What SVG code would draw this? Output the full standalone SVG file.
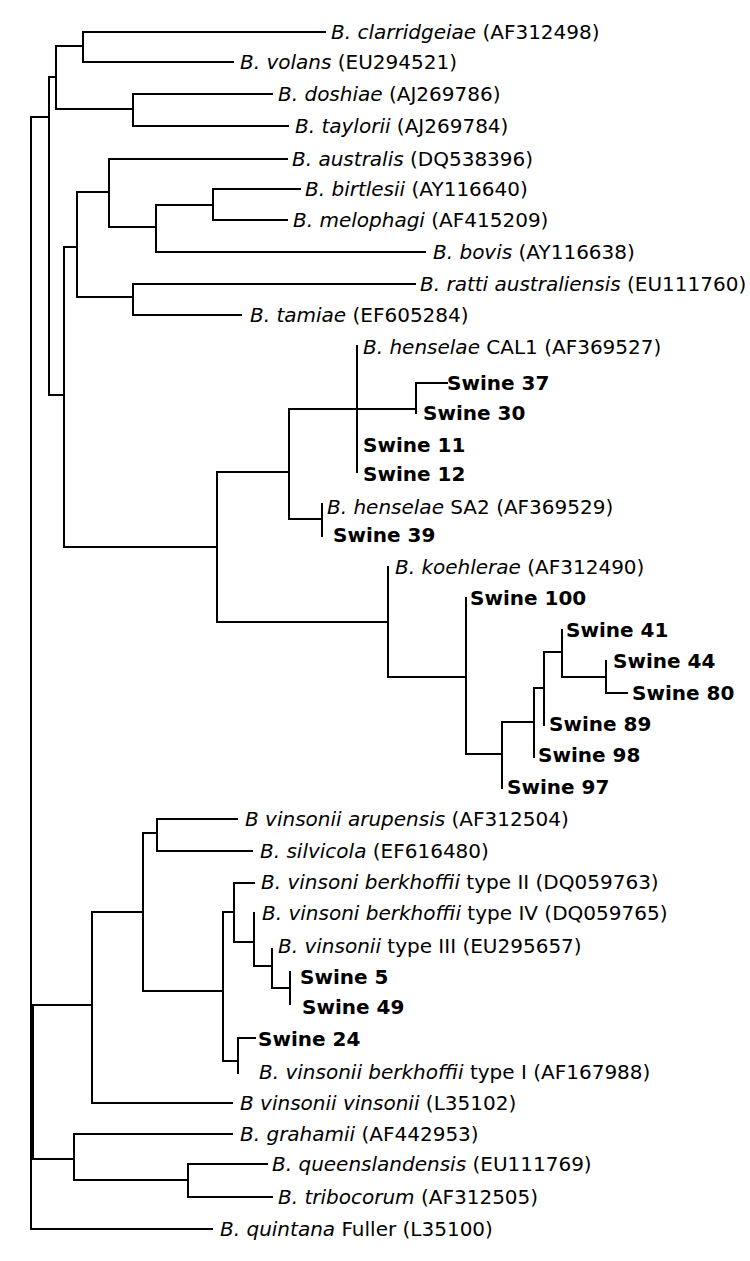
<svg xmlns="http://www.w3.org/2000/svg" width="750" height="1261" viewBox="0 0 750 1261">
<style>
text{font-family:"DejaVu Sans","Verdana",sans-serif;font-size:20px;fill:#000}
.i{font-style:italic}
.b{font-weight:bold}
.e{fill:none;stroke:#000;stroke-width:2;stroke-linecap:square}
</style>
<rect width="750" height="1261" fill="#fff"/>
<g id="connectors" class="e">
<path d="M31 117V1229M31 117H49M31 1229H212"/>
<path d="M49 77V395M49 77H56M49 395H64"/>
<path d="M56 46V109M56 46H83M56 109H133"/>
<path d="M83 32V62M83 32H325M83 62H233"/>
<path d="M133 94V126M133 94H272M133 126H288"/>
<path d="M64 247V547M64 247H77M64 547H217"/>
<path d="M77 192V297M77 192H109M77 297H133"/>
<path d="M109 159V227M109 159H287M109 227H156"/>
<path d="M156 205V252M156 205H213M156 252H425"/>
<path d="M213 189V220M213 189H300M213 220H287"/>
<path d="M133 284V315M133 284H415M133 315H241"/>
<path d="M217 472V622M217 472H289M217 622H388"/>
<path d="M289 409V519M289 409H416M289 519H322"/>
<path d="M357 346V472"/>
<path d="M416 383V413M416 383H447"/>
<path d="M322 504V536"/>
<path d="M388 567V677M388 677H466"/>
<path d="M466 598V754M466 754H502"/>
<path d="M502 722V788M502 722H534"/>
<path d="M534 688V757M534 688H544"/>
<path d="M544 652V725M544 652H562"/>
<path d="M562 630V677M562 677H606"/>
<path d="M606 661V693M606 693H627"/>
<path d="M33 1005V1159M33 1005H92M33 1159H74"/>
<path d="M92 912V1103M92 912H143M92 1103H232"/>
<path d="M143 833V991M143 833H157M143 991H223"/>
<path d="M157 819V851M157 819H237M157 851H252"/>
<path d="M223 912V1061M223 912H234M223 1061H238"/>
<path d="M234 883V942M234 883H254M234 942H254"/>
<path d="M254 913V966M254 966H272"/>
<path d="M272 949V988M272 988H290"/>
<path d="M290 972V1004"/>
<path d="M238 1038V1073M238 1038H255"/>
<path d="M74 1134V1180M74 1134H232M74 1180H188"/>
<path d="M188 1164V1197M188 1164H267M188 1197H272"/>
</g>
<g id="n-clarridgeiae"><text x="331" y="39"><tspan class="i">B. clarridgeiae</tspan> (AF312498)</text></g>
<g id="n-volans"><text x="240" y="69"><tspan class="i">B. volans</tspan> (EU294521)</text></g>
<g id="n-doshiae"><text x="278" y="101"><tspan class="i">B. doshiae</tspan> (AJ269786)</text></g>
<g id="n-taylorii"><text x="295" y="133"><tspan class="i">B. taylorii</tspan> (AJ269784)</text></g>
<g id="n-australis"><text x="292" y="166"><tspan class="i">B. australis</tspan> (DQ538396)</text></g>
<g id="n-birtlesii"><text x="305" y="196"><tspan class="i">B. birtlesii</tspan> (AY116640)</text></g>
<g id="n-melophagi"><text x="293" y="227"><tspan class="i">B. melophagi</tspan> (AF415209)</text></g>
<g id="n-bovis"><text x="433" y="259"><tspan class="i">B. bovis</tspan> (AY116638)</text></g>
<g id="n-ratti"><text x="420" y="291"><tspan class="i">B. ratti australiensis</tspan> (EU111760)</text></g>
<g id="n-tamiae"><text x="250" y="322"><tspan class="i">B. tamiae</tspan> (EF605284)</text></g>
<g id="n-henselae-cal1"><text x="363" y="354"><tspan class="i">B. henselae</tspan> CAL1 (AF369527)</text></g>
<g id="n-swine37"><text class="b" x="447" y="390">Swine 37</text></g>
<g id="n-swine30"><text class="b" x="423" y="420">Swine 30</text></g>
<g id="n-swine11"><text class="b" x="363" y="452">Swine 11</text></g>
<g id="n-swine12"><text class="b" x="363" y="481">Swine 12</text></g>
<g id="n-henselae-sa2"><text x="327" y="514"><tspan class="i">B. henselae</tspan> SA2 (AF369529)</text></g>
<g id="n-swine39"><text class="b" x="333" y="542">Swine 39</text></g>
<g id="n-koehlerae"><text x="395" y="574"><tspan class="i">B. koehlerae</tspan> (AF312490)</text></g>
<g id="n-swine100"><text class="b" x="470" y="605">Swine 100</text></g>
<g id="n-swine41"><text class="b" x="566" y="637">Swine 41</text></g>
<g id="n-swine44"><text class="b" x="613" y="668">Swine 44</text></g>
<g id="n-swine80"><text class="b" x="632" y="700">Swine 80</text></g>
<g id="n-swine89"><text class="b" x="549" y="731">Swine 89</text></g>
<g id="n-swine98"><text class="b" x="538" y="762">Swine 98</text></g>
<g id="n-swine97"><text class="b" x="507" y="794">Swine 97</text></g>
<g id="n-arupensis"><text x="245" y="826"><tspan class="i">B vinsonii arupensis</tspan> (AF312504)</text></g>
<g id="n-silvicola"><text x="260" y="858"><tspan class="i">B. silvicola</tspan> (EF616480)</text></g>
<g id="n-berkhoffii-ii"><text x="261" y="889"><tspan class="i">B. vinsoni berkhoffii</tspan> type II (DQ059763)</text></g>
<g id="n-berkhoffii-iv"><text x="262" y="920"><tspan class="i">B. vinsoni berkhoffii</tspan> type IV (DQ059765)</text></g>
<g id="n-vinsonii-iii"><text x="278" y="953"><tspan class="i">B. vinsonii</tspan> type III (EU295657)</text></g>
<g id="n-swine5"><text class="b" x="300" y="984">Swine 5</text></g>
<g id="n-swine49"><text class="b" x="302" y="1014">Swine 49</text></g>
<g id="n-swine24"><text class="b" x="258" y="1046">Swine 24</text></g>
<g id="n-berkhoffii-i"><text x="259" y="1079"><tspan class="i">B. vinsonii berkhoffii</tspan> type I (AF167988)</text></g>
<g id="n-vinsonii-vinsonii"><text x="240" y="1110"><tspan class="i">B vinsonii vinsonii</tspan> (L35102)</text></g>
<g id="n-grahamii"><text x="240" y="1141"><tspan class="i">B. grahamii</tspan> (AF442953)</text></g>
<g id="n-queenslandensis"><text x="272" y="1171"><tspan class="i">B. queenslandensis</tspan> (EU111769)</text></g>
<g id="n-tribocorum"><text x="278" y="1204"><tspan class="i">B. tribocorum</tspan> (AF312505)</text></g>
<g id="n-quintana"><text x="220" y="1236"><tspan class="i">B. quintana</tspan> Fuller (L35100)</text></g>
</svg>
